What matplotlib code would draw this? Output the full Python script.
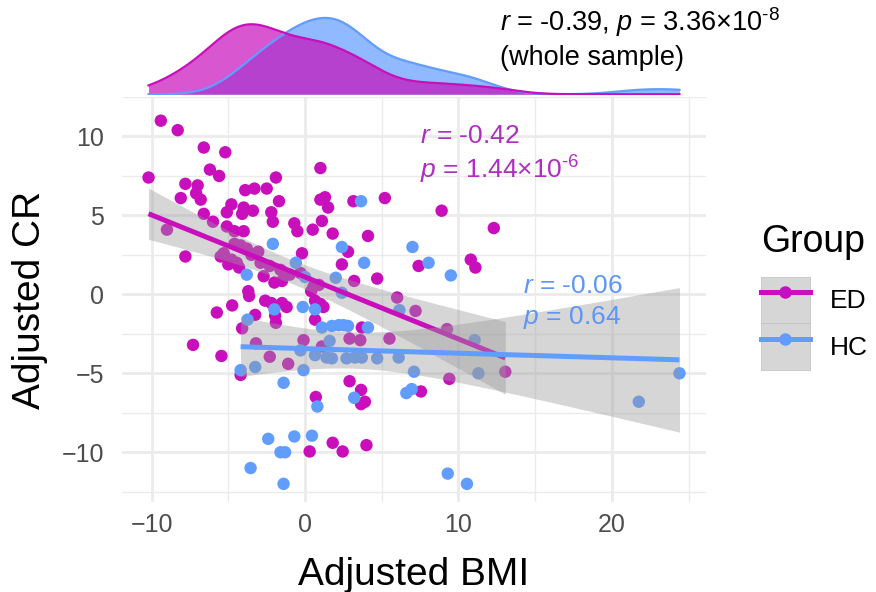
import numpy as np
import matplotlib.pyplot as plt
from matplotlib.lines import Line2D
from matplotlib.patches import Patch

plt.rcParams['font.family'] = ['Liberation Sans', 'DejaVu Sans']
plt.rcParams['mathtext.fontset'] = 'custom'
plt.rcParams['mathtext.it'] = 'Liberation Sans:italic'
plt.rcParams['mathtext.rm'] = 'Liberation Sans'

ED_COL = '#C80FBB'
HC_COL = '#619CFF'
ED_TXT = '#AE2EC0'
HC_TXT = '#5D96F7'

# ED group: adjusted BMI / adjusted CR
ed_bmi = [-9.4, -8.3, -6.6, -5.2, -10.2, -6.2, -5.6, -7.8, -7.0, -7.1, -8.1, -6.8,
          -3.9, -3.3, -2.5, -1.9, -1.7, -4.8, -5.1, -4.0, -3.4, -4.1, -2.2, -2.1,
          -6.6, -6.0, -9.0, -5.1, -4.6, -4.0, -0.7, -0.5, 0.5, -7.8, -0.2,
          1.0, 1.0, 1.3, 1.5, 3.15, 5.2, 8.9, 12.3, 1.1, 1.8, 4.1, 2.8, 2.4,
          4.7, 3.2, 7.4, 10.8, 11.1, 0.55, 0.4, 0.9, 0.65, 1.0, 1.2, 0.65, 3.7,
          6.0, 7.2, 2.9, 3.6, 5.5, -0.1, 1.1, 2.9, 9.25, 9.4, 7.55, 3.65, 3.9,
          3.65, 0.7, 0.3, 1.8, 2.45, 4.0, -3.65, -4.75, -5.75, -2.6, -2.2, -1.5,
          -1.2, -3.25, -1.95, -4.1, -1.9, -7.3, -5.45, -3.2, -2.3, -1.1, -4.2,
          13.05, -2.0, -5.3, -5.5, -4.8, -4.45, -5.0, -4.6, -4.2, -3.8, -3.5,
          -3.05, -2.9, -2.3, -2.7, -1.6, -1.0, -0.3, -1.5, -3.7, -4.3]
ed_cr = [11.0, 10.4, 9.3, 9.0, 7.4, 7.9, 7.5, 7.0, 6.9, 6.4, 6.1, 6.0,
         6.6, 6.7, 6.7, 7.4, 5.9, 5.7, 5.2, 5.5, 5.3, 5.1, 5.2, 4.6,
         5.1, 4.6, 4.1, 4.3, 4.0, 4.0, 4.5, 4.0, 4.1, 2.4, 2.6,
         8.0, 6.0, 6.15, 5.5, 5.9, 6.1, 5.3, 4.2, 4.65, 3.85, 3.7, 2.7, 1.9,
         1.0, 0.85, 1.8, 2.2, 1.7, 0.5, 0.2, 0.6, -0.4, -0.6, -0.8, -1.6, -2.1,
         -0.2, -1.05, -2.8, -2.9, -2.8, -2.9, -3.3, -5.5, -2.2, -5.35, -6.15, -6.05, -6.8,
         -6.95, -6.5, -9.95, -9.4, -9.95, -9.55, -0.1, -0.7, -1.15, -0.4, -0.55, -0.55,
         -0.8, -1.3, -1.35, -2.15, -1.8, -3.2, -3.9, -3.1, -3.95, -4.4, -5.1,
         -4.9, 0.75, 2.6, 2.4, 2.2, 2.0, 1.9, 3.2, 3.1, 2.9, 2.5,
         2.7, 2.0, 1.8, 1.15, 1.55, 1.25, 1.35, 0.85, 0.2, 1.7]

# HC group
hc_bmi = [-2.1, -0.6, -3.8, 0.0, 3.65, 2.4, 3.85, 2.0, 7.0, 8.05, 9.5, 2.4,
          0.65, -0.15, 1.1, 1.75, 2.2, 2.5, 2.8, 4.1, 6.15, 1.6, 0.65, 1.4,
          1.75, 2.7, 3.25, 3.7, 4.7, 6.1, 7.1, -0.1, 11.05, 11.3, 6.6, 6.95,
          3.2, 0.8, 0.45, 9.3, 10.55, -2.0, -0.3, -4.2, -3.25, -1.4, -2.4, -0.7,
          -1.6, -1.3, -3.55, -1.4, -3.75, 24.4, 21.75]
hc_cr = [3.2, 2.0, 1.25, 1.1, 5.9, 3.0, 2.0, 1.05, 3.0, 2.0, 1.2, 0.1,
         -0.95, -0.8, -2.1, -2.0, -1.95, -1.95, -2.0, -2.1, -1.0, -2.95, -3.85, -4.0,
         -4.05, -4.05, -4.0, -4.0, -4.05, -4.0, -4.9, -4.8, -2.9, -5.0, -6.25, -6.0,
         -6.55, -7.1, -8.95, -11.35, -12.0, -0.95, -3.55, -4.8, -4.6, -5.6, -9.15, -9.0,
         -10.0, -10.0, -11.0, -12.0, -1.6, -5.0, -6.8]

groups = [('ED', ed_bmi, ed_cr, ED_COL), ('HC', hc_bmi, hc_cr, HC_COL)]


def t975(df):
    z = 1.959964
    return z + (z**3 + z) / (4 * df) + (5 * z**5 + 16 * z**3 + 3 * z) / (96 * df**2)


def lm_band(x, y, n_pts=80):
    x = np.asarray(x); y = np.asarray(y)
    b1, b0 = np.polyfit(x, y, 1)
    n = len(x)
    s = np.sqrt(np.sum((y - (b0 + b1 * x)) ** 2) / (n - 2))
    g = np.linspace(x.min(), x.max(), n_pts)
    se = s * np.sqrt(1 / n + (g - x.mean()) ** 2 / np.sum((x - x.mean()) ** 2))
    fit = b0 + b1 * g
    t = t975(n - 2)
    return g, fit, fit - t * se, fit + t * se


def kde(x, grid):
    x = np.asarray(x)
    iqr = np.subtract(*np.percentile(x, [75, 25]))
    bw = 0.9 * min(x.std(ddof=1), iqr / 1.34) * len(x) ** -0.2
    d = np.exp(-0.5 * ((grid[:, None] - x[None, :]) / bw) ** 2).sum(1)
    return d / (len(x) * bw * np.sqrt(2 * np.pi))


fig = plt.figure(figsize=(8.76, 5.92), dpi=100)
ax = fig.add_axes([122 / 876, 1 - 502 / 592, 584 / 876, 405 / 592])
axm = fig.add_axes([122 / 876, 1 - 95 / 592, 584 / 876, 87 / 592])

all_x = np.array(ed_bmi + hc_bmi)
all_y = np.array(ed_cr + hc_cr)
xr = all_x.max() - all_x.min()
yr = all_y.max() - all_y.min()
xlim = (all_x.min() - 0.05 * xr, all_x.max() + 0.05 * xr)
ylim = (all_y.min() - 0.05 * yr, all_y.max() + 0.05 * yr)

for name, x, y, col in groups:
    ax.scatter(x, y, s=80, color=col, edgecolors='none', zorder=2)

z = 3
for name, x, y, col in groups:
    g, fit, lo, hi = lm_band(x, y)
    ax.fill_between(g, lo, hi, color='#999999', alpha=0.4, lw=0, zorder=z)
    ax.plot(g, fit, color=col, lw=3.6, solid_capstyle='butt', zorder=z + 1)
    z += 2

ax.set_xlim(xlim)
ax.set_ylim(ylim)
ax.set_xticks([-10, 0, 10, 20])
ax.set_xticks([-5, 5, 15, 25], minor=True)
ax.set_yticks([-10, -5, 0, 5, 10])
ax.set_yticks([-12.5, -7.5, -2.5, 2.5, 7.5, 12.5], minor=True)
ax.grid(which='major', color='#EBEBEB', lw=2.0)
ax.grid(which='minor', color='#EBEBEB', lw=1.0)
ax.set_axisbelow(True)
for sp in ax.spines.values():
    sp.set_visible(False)
ax.tick_params(which='both', length=0, labelsize=18, labelcolor='#4D4D4D')
ax.tick_params(axis='x', pad=8)
ax.tick_params(axis='y', pad=13)
ax.set_xlabel('Adjusted BMI', fontsize=28, labelpad=14)
ax.set_ylabel('Adjusted CR', fontsize=28, labelpad=10)

ax.text(7.5, 10.0, r'$r$ = -0.42', color=ED_TXT, fontsize=19, va='center', ha='left', zorder=10)
ax.text(7.5, 7.9, r'$p$ = 1.44×10$^{\text{-}6}$', color=ED_TXT, fontsize=19,
        va='center', ha='left', zorder=10)
ax.text(14.2, 0.55, r'$r$ = -0.06', color=HC_TXT, fontsize=19, va='center', ha='left', zorder=10)
ax.text(14.2, -1.45, r'$p$ = 0.64', color=HC_TXT, fontsize=19, va='center', ha='left', zorder=10)

# marginal density of BMI per group
grid = np.linspace(all_x.min(), all_x.max(), 512)
dens = {}
for name, x, y, col in groups:
    dens[name] = kde(x, grid)
dmax = max(d.max() for d in dens.values())
for name, col in [('HC', HC_COL), ('ED', ED_COL)]:
    axm.fill_between(grid, 0, dens[name], color=col, alpha=0.7, lw=0)
    axm.plot(grid, dens[name], color=col, lw=1.6)
axm.set_xlim(xlim)
axm.set_ylim(-0.01 * dmax, dmax * 1.13)
axm.axis('off')

fig.text(500 / 876, 1 - 22 / 592, r'$r$ = -0.39, $p$ = 3.36×10$^{\text{-}8}$', fontsize=19.5,
         va='center', ha='left')
fig.text(500 / 876, 1 - 58 / 592, '(whole sample)', fontsize=19.5, va='center', ha='left')

key_bg = '#D6D6D6'
handles = [(Patch(facecolor=key_bg, edgecolor='#C4C4C4', lw=0.6),
            Line2D([], [], color=c, lw=3.6, marker='o', ms=9, mec='none'))
           for c in (ED_COL, HC_COL)]
leg = fig.legend(handles, ['ED', 'HC'], title='Group', loc='upper left',
                 bbox_to_anchor=(761 / 876, 1 - 224 / 592), frameon=False,
                 fontsize=19, title_fontsize=27, handlelength=1.85, handleheight=2.35,
                 labelspacing=0.0, handletextpad=0.75, borderpad=0.0, borderaxespad=0.0)
leg._legend_box.align = 'left'
leg._legend_box.sep = 12

fig.savefig('out.png', dpi=100)
